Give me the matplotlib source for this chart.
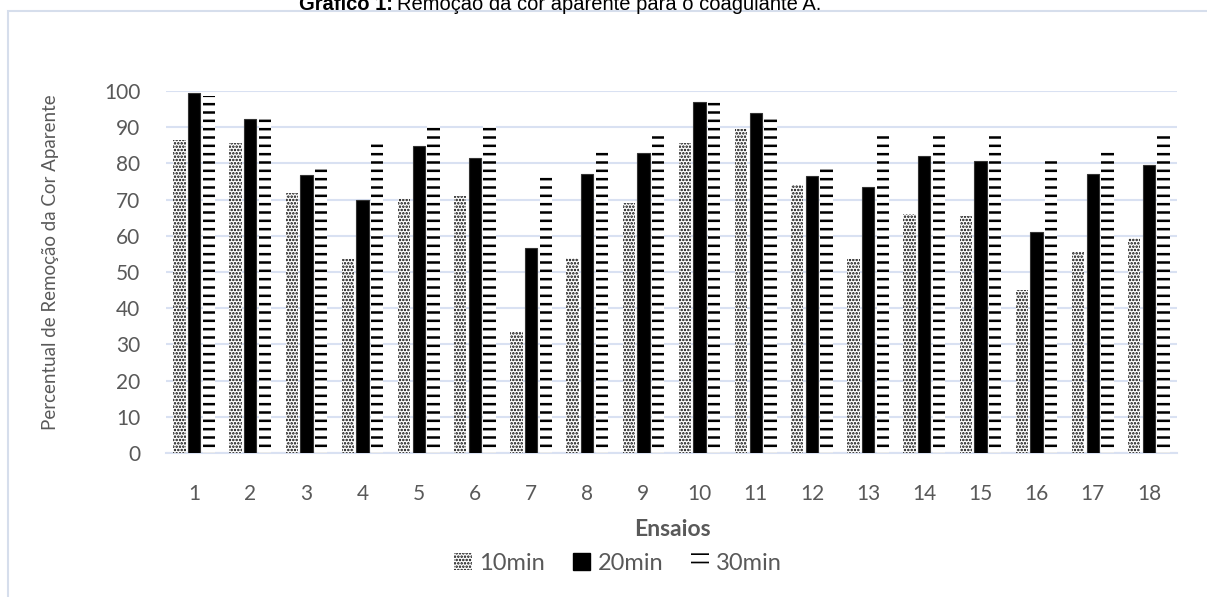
import matplotlib as mpl
import matplotlib.pyplot as plt
import numpy as np
from matplotlib.patches import Patch, Rectangle

# values (percent removal of apparent colour)
ensaios = [str(i) for i in range(1, 19)]
min10 = [86.5, 85.5, 71.7, 53.5, 70.1, 71.0, 33.5, 54.0, 69.0, 85.5, 89.5, 74.0, 53.5, 66.0, 65.5, 45.0, 55.4, 59.3]
min20 = [99.4, 92.4, 76.8, 69.9, 84.9, 81.5, 56.5, 77.0, 83.0, 97.0, 94.0, 76.5, 73.5, 82.0, 80.7, 61.0, 77.0, 79.6]
min30 = [98.5, 93.4, 79.4, 86.2, 90.9, 91.0, 77.0, 84.0, 89.0, 98.0, 93.5, 79.5, 89.0, 89.0, 88.6, 81.4, 83.9, 88.5]
series_names = ['10min', '20min', '30min']

mpl.rcParams['font.family'] = ['Lato', 'DejaVu Sans']
mpl.rcParams['hatch.linewidth'] = 1.8
gray = '#595959'
grid_col = '#D9E1F2'


def thin_dots(patches, lw=1.2):
    # dotted hatch needs thinner strokes than the dashes
    for p in patches:
        if hasattr(p, 'set_hatch_linewidth'):
            p.set_hatch_linewidth(lw)


fig = plt.figure(figsize=(12.07, 5.97), dpi=100)
W, H = 1207, 597

# outer chart border
fig.add_artist(Rectangle((8 / W, -0.01), 1.2, 1 - 11 / H + 0.01, transform=fig.transFigure,
                         fill=False, edgecolor='#D6DEEC', linewidth=1.5))

ax = fig.add_axes([166 / W, 1 - 453 / H, (1177 - 166) / W, (453 - 91) / H])

x = np.arange(len(ensaios))
w = 0.22
off = 0.26

b10 = ax.bar(x - off, min10, w, color='white', edgecolor='black', linewidth=0, hatch='.....', zorder=3)
thin_dots(b10)
ax.bar(x, min20, w, color='black', edgecolor='#333333', linewidth=0.8, zorder=3)
ax.bar(x + off, min30, w, color='white', edgecolor='black', linewidth=0, hatch='--', zorder=3)

ax.set_xlim(-0.5, len(ensaios) - 0.5)
ax.set_ylim(0, 100)
ax.set_yticks(range(0, 101, 10))
ax.set_xticks(x)
ax.set_xticklabels(ensaios)
ax.yaxis.grid(True, color=grid_col, linewidth=1.5, zorder=0)
for s in ['top', 'right', 'left']:
    ax.spines[s].set_visible(False)
ax.spines['bottom'].set_color(grid_col)
ax.spines['bottom'].set_linewidth(1.5)
ax.tick_params(length=0, labelsize=15, colors=gray)
ax.tick_params(axis='y', pad=18.5)
ax.tick_params(axis='x', pad=22)

fig.text(51 / W, 1 - 262 / H, 'Percentual de Remoção da Cor Aparente', rotation=90,
         ha='center', va='center', fontsize=13.5, color=gray)
fig.text(672 / W, 1 - 529 / H, 'Ensaios', ha='center', va='center', fontsize=16.5,
         fontweight='bold', color=gray)

# title, partly cut by the top of the image as in the source
tf = ['Liberation Sans', 'DejaVu Sans']
fig.text(393 / W, 1 - 10 / H, 'Gráfico 1:', ha='right', va='baseline', fontsize=14.5,
         fontweight='bold', family=tf)
fig.text(397 / W, 1 - 10 / H, 'Remoção da cor aparente para o coagulante A.', ha='left',
         va='baseline', fontsize=14.5, family=tf)

h10 = Patch(facecolor='white', edgecolor='black', linewidth=0, hatch='.....')
thin_dots([h10])
handles = [h10,
           Patch(facecolor='black', edgecolor='black'),
           Patch(facecolor='white', edgecolor='black', linewidth=0, hatch='--')]
leg = fig.legend(handles, series_names, loc='center', bbox_to_anchor=(618 / W, 1 - 563 / H),
                 ncol=3, frameon=False, fontsize=17, handlelength=0.75, handleheight=0.75,
                 handletextpad=0.3, columnspacing=1.2)
for t in leg.get_texts():
    t.set_color(gray)
thin_dots(leg.get_patches())

fig.savefig('out.png', dpi=100)
